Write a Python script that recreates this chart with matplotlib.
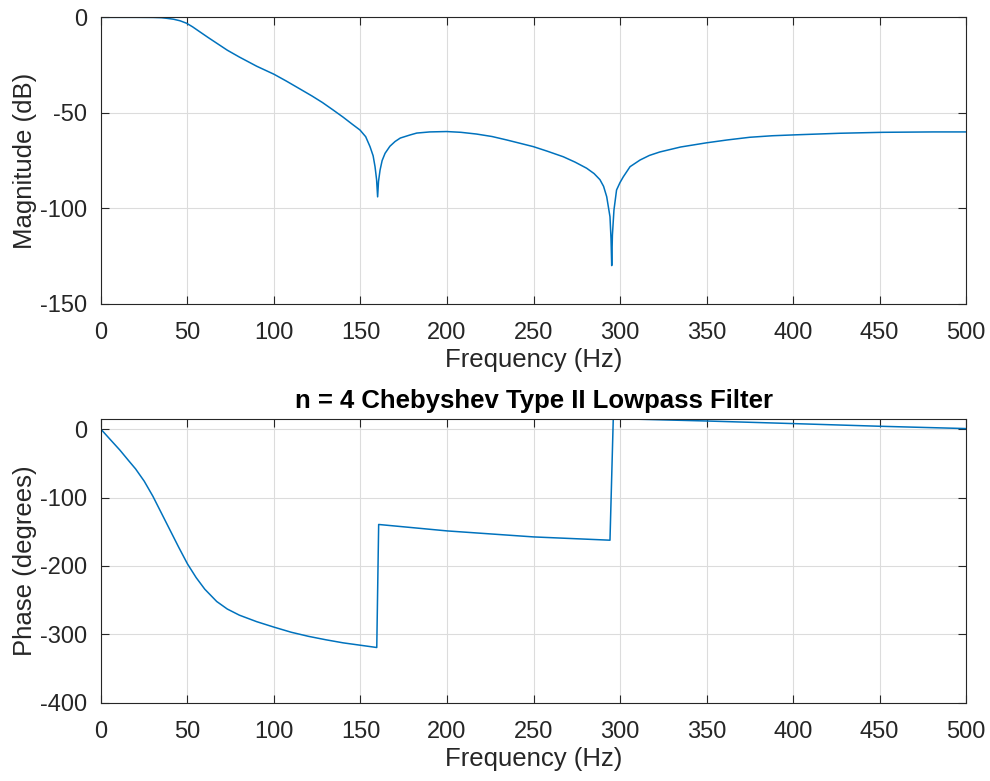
import matplotlib.pyplot as plt

plt.rcParams['font.family'] = ['Liberation Sans', 'DejaVu Sans']
plt.rcParams['axes.unicode_minus'] = False

# magnitude response
mag_f = [0, 10, 20, 30, 35, 38, 42, 45.7, 49.5, 53, 57, 62, 67, 73, 80, 90, 100,
         107, 115, 122, 128, 134, 140, 145, 149.7, 153, 155.5, 157.3, 158.4, 159.3,
         159.9, 160.4, 161.3, 162.5, 164.2, 167, 170, 173, 178.6, 182.5, 190, 199.8,
         208, 217, 226, 234.5, 242, 249.9, 258, 267.2, 274, 280.7, 285, 288.4, 290.5,
         292.3, 294.2, 294.8, 295.2, 295.6, 296.5, 298, 300, 301.9, 305.8, 311.6, 317,
         323, 335, 350, 362, 375, 388, 402, 427, 452, 481, 500]
mag_db = [0, 0, 0, -0.05, -0.2, -0.5, -1.0, -1.8, -3.1, -5.0, -7.5, -10.6, -13.6,
          -17.2, -20.8, -25.6, -29.8, -33.3, -37.5, -41.2, -44.6, -48.4, -52.3, -55.8,
          -59.0, -62.5, -67.7, -72.5, -78.2, -85.0, -94.0, -86.0, -80.0, -75.0, -71.2,
          -67.5, -65.0, -63.2, -61.6, -60.6, -60.0, -59.8, -60.2, -61.1, -62.4, -64.2,
          -65.9, -67.7, -70.1, -73.0, -75.8, -79.0, -81.8, -85.0, -88.5, -93.9, -104.4,
          -116.0, -130.0, -114.0, -100.9, -90.4, -86.5, -83.5, -78.2, -74.7, -72.3,
          -70.5, -67.9, -65.7, -64.2, -62.8, -62.0, -61.5, -60.7, -60.2, -60.0, -60.0]

# phase response
ph_f = [0, 5, 11, 16, 20, 25, 30, 35, 40, 45, 50, 55, 60, 66.9, 73, 80, 90, 100, 110,
        120, 130, 140, 150, 159.4, 160.5, 200, 250, 294.2, 296.1, 298, 350, 400, 450, 500]
ph_deg = [0, -14, -30.7, -46, -58, -76, -98, -123, -148, -173, -197, -217, -234, -252,
          -263, -272, -281.5, -289.5, -297, -303, -308, -312.5, -316, -319.3, -139.3,
          -148.7, -157.5, -162.3, 15.5, 15.5, 12.1, 8.3, 4.4, 1]

line_col = '#0072BD'
ax_col = '#262626'

fig = plt.figure(figsize=(9.9, 7.81), dpi=100)
ax1 = fig.add_axes([0.102, 0.611, 0.8738, 0.3668])
ax2 = fig.add_axes([0.102, 0.1003, 0.8738, 0.3632])

for ax in (ax1, ax2):
    ax.set_xlim(0, 500)
    ax.set_xticks(range(0, 501, 50))
    ax.grid(True, color='#dcdcdc', linewidth=0.8)
    ax.set_axisbelow(True)
    ax.tick_params(direction='in', top=True, right=True, labelsize=17,
                   colors=ax_col, length=6, width=0.8)
    ax.tick_params(axis='x', pad=13)
    ax.tick_params(axis='y', pad=10)
    for s in ax.spines.values():
        s.set_color(ax_col)
        s.set_linewidth(0.8)
    ax.set_xlabel('Frequency (Hz)', fontsize=18.5, color=ax_col, labelpad=3)

ax1.plot(mag_f, mag_db, color=line_col, linewidth=1.1)
ax1.set_ylim(-150, 0)
ax1.set_yticks([0, -50, -100, -150])
ax1.set_ylabel('Magnitude (dB)', fontsize=18.5, color=ax_col, labelpad=2)

ax2.plot(ph_f, ph_deg, color=line_col, linewidth=1.1)
ax2.set_ylim(-400, 15)
ax2.set_yticks([0, -100, -200, -300, -400])
ax2.set_ylabel('Phase (degrees)', fontsize=18.5, color=ax_col, labelpad=2)
ax2.set_title('n = 4 Chebyshev Type II Lowpass Filter', fontsize=18.5,
              fontweight='bold', color='black', pad=8)

fig.savefig('out.png', dpi=100)
